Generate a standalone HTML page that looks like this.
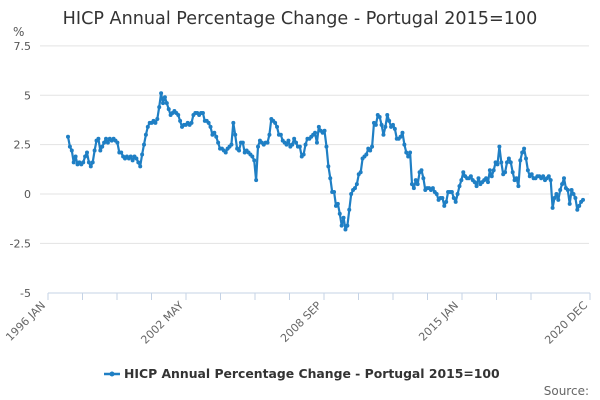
<!DOCTYPE html>
<html><head><meta charset="utf-8"><style>
body{margin:0;background:#fff;font-family:"Liberation Sans","DejaVu Sans",sans-serif}
svg{display:block}
</style></head><body>
<svg id="chart" width="600" height="400" viewBox="0 0 600 400">
<text x="300" y="24" text-anchor="middle" font-size="17.6" fill="#333" font-family="DejaVu Sans, sans-serif">HICP Annual Percentage Change - Portugal 2015=100</text>
<text x="13" y="36" font-size="12" fill="#555" font-family="DejaVu Sans, sans-serif">%</text>
<g id="grid"></g><g id="yticks"></g><g id="xaxis"></g><g id="series"></g>
<g>
<line x1="104" y1="374" x2="120" y2="374" stroke="#1f7fc4" stroke-width="2.5"/>
<circle cx="112" cy="374" r="2.5" fill="#1f7fc4"/>
<text x="124" y="378" font-size="12.4" font-weight="bold" fill="#333" font-family="DejaVu Sans, sans-serif">HICP Annual Percentage Change - Portugal 2015=100</text>
</g>
<text x="589" y="395" text-anchor="end" font-size="12" fill="#666" font-family="DejaVu Sans, sans-serif">Source:</text>
</svg>
<script>
const yTicks=[7.5,5,2.5,0,-2.5,-5];
const yTickLabels=["7.5","5","2.5","0","-2.5","-5"];
const xTickLabels=["1996 JAN","2002 MAY","2008 SEP","2015 JAN","2020 DEC"];
const values=[2.9,2.4,2.2,1.6,1.9,1.5,1.6,1.5,1.6,1.9,2.1,1.6,1.4,1.6,2.2,2.7,2.8,2.2,2.4,2.6,2.8,2.6,2.8,2.7,2.8,2.7,2.6,2.1,2.1,1.9,1.8,1.9,1.8,1.9,1.7,1.9,1.8,1.6,1.4,2.0,2.5,3.0,3.4,3.6,3.6,3.7,3.6,3.8,4.4,5.1,4.6,4.9,4.6,4.3,4.0,4.1,4.2,4.1,4.0,3.7,3.4,3.5,3.5,3.6,3.5,3.6,4.0,4.1,4.1,4.0,4.1,4.1,3.7,3.7,3.6,3.4,3.0,3.1,2.9,2.6,2.3,2.3,2.2,2.1,2.3,2.4,2.5,3.6,3.0,2.3,2.2,2.6,2.6,2.1,2.2,2.1,2.0,1.9,1.7,0.7,2.4,2.7,2.6,2.5,2.6,2.6,3.0,3.8,3.7,3.6,3.4,3.0,3.0,2.7,2.6,2.5,2.7,2.4,2.5,2.8,2.6,2.4,2.4,1.9,2.0,2.5,2.8,2.8,2.9,3.0,3.1,2.6,3.4,3.2,3.1,3.2,2.4,1.4,0.8,0.1,0.1,-0.6,-0.5,-1.0,-1.6,-1.2,-1.8,-1.6,-0.8,0.0,0.2,0.3,0.5,1.0,1.1,1.8,1.9,2.0,2.3,2.2,2.4,3.6,3.5,4.0,3.9,3.5,3.0,3.4,4.0,3.7,3.4,3.5,3.3,2.8,2.8,2.9,3.1,2.5,2.1,1.9,2.1,0.5,0.3,0.7,0.5,1.1,1.2,0.8,0.2,0.3,0.3,0.2,0.3,0.1,0.0,-0.3,-0.2,-0.2,-0.6,-0.4,0.1,0.1,0.1,-0.2,-0.4,0.0,0.4,0.7,1.1,0.9,0.8,0.8,0.9,0.7,0.6,0.4,0.8,0.5,0.6,0.7,0.8,0.6,1.2,0.9,1.2,1.6,1.5,2.4,1.6,1.0,1.1,1.6,1.8,1.6,1.1,0.7,0.8,0.4,1.7,2.1,2.3,1.8,1.2,0.9,1.0,0.8,0.8,0.9,0.9,0.8,0.9,0.7,0.8,0.9,0.7,-0.7,-0.2,0.0,-0.3,0.2,0.5,0.8,0.3,0.2,-0.5,0.2,0.0,-0.2,-0.8,-0.6,-0.4,-0.3];
const NS='http://www.w3.org/2000/svg';
const y=v=>194-(v*19.75);
const xi=i=>68+i*(515/(values.length-1));
const xt=i=>48+i*34.5;
const grid=document.getElementById('grid'),yt=document.getElementById('yticks'),xa=document.getElementById('xaxis'),se=document.getElementById('series');
function mk(t,a,p){const e=document.createElementNS(NS,t);for(const k in a)e.setAttribute(k,a[k]);p.appendChild(e);return e;}
yTicks.forEach((v,i)=>{
 if(v!==-5){const l=mk('line',{x1:40,x2:589,y1:y(v),y2:y(v),stroke:'#e3e3e3','stroke-width':1},grid);
 
 }
 const t=mk('text',{x:31,y:y(v)+4,'text-anchor':'end','font-size':11,fill:'#555','font-family':'DejaVu Sans, sans-serif'},yt);
 t.textContent=yTickLabels[i];
 
 
});
const ax=mk('line',{x1:48,x2:590,y1:293,y2:293,stroke:'#c5d3e6','stroke-width':1},xa);


for(let i=0;i<16;i++){const xx=i===15?590:xt(i);
 const tk=mk('line',{x1:xx,x2:xx,y1:293,y2:300,stroke:'#c5d3e6'},xa);
 
 }
const lp=[48,186,324,461,590];
xTickLabels.forEach((s,i)=>{
 const t=mk('text',{x:lp[i]-2,y:306,'text-anchor':'end','font-size':11,fill:'#666','font-family':'DejaVu Sans, sans-serif',transform:`rotate(-45 ${lp[i]-2} 306)`},xa);
 t.textContent=s;
 
 
});
const pl=mk('polyline',{points:values.map((v,i)=>xi(i).toFixed(1)+','+y(v).toFixed(1)).join(' '),fill:'none',stroke:'#1f7fc4','stroke-width':2.2,'stroke-linejoin':'round'},se);


values.forEach((v,i)=>{const c=mk('circle',{cx:xi(i),cy:y(v),r:2,fill:'#1f7fc4'},se);
 
 });
</script>
</body></html>
